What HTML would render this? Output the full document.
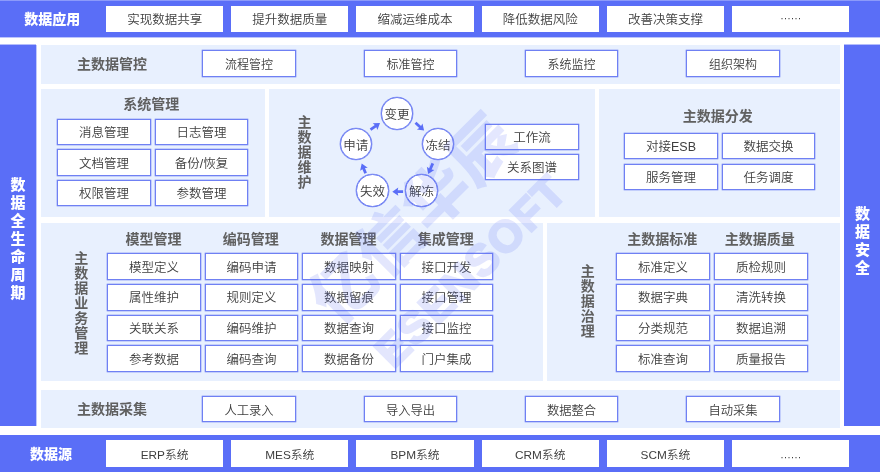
<!DOCTYPE html>
<html lang="zh-CN"><head><meta charset="utf-8"><title>主数据管理</title>
<style>
html,body{margin:0;padding:0;background:#fff;}
body{width:881px;height:473px;position:relative;overflow:hidden;font-family:"Liberation Sans","Noto Sans CJK SC",sans-serif;}
#root{will-change:transform;}
#root div{position:absolute;box-sizing:content-box;text-align:center;white-space:nowrap;}
#ar{position:absolute;left:0;top:0;}
#root #wm{left:0;top:0;width:881px;height:473px;color:#586cf6;opacity:.16;overflow:hidden;}
#root #wm div{overflow:visible;width:400px;height:80px;line-height:80px;transform:rotate(-45deg);transform-origin:200px 40px;}
#root #wm .w1{left:213.7px;top:178.9px;font-size:64px;letter-spacing:1px;font-weight:900;}
#root #wm .w2{left:271px;top:230.8px;font-size:44px;font-weight:700;letter-spacing:1.5px;-webkit-text-stroke:2.4px #586cf6;}
.blue{background:#5a6ef7;}
.pn{background:#e8f0fe;}
.wb{background:#fff;color:#3e3e3e;font-size:12.5px;font-weight:350;}
.bx{background:#fff;border:1px solid #6f80f3;box-shadow:0 0 0 .3px #6f80f3;color:#3e3e3e;font-size:12.5px;font-weight:350;}
.cc{background:#fff;border:1px solid #6f80f3;box-shadow:0 0 0 .35px #6f80f3;border-radius:50%;color:#3e3e3e;font-size:12.5px;font-weight:350;}
.tt{color:#606060;font-size:14px;font-weight:700;}
.vl{color:#606060;font-size:14px;font-weight:700;}
#root .vt{white-space:normal;word-break:break-all;overflow-wrap:anywhere;}
.wt{color:#fff;font-size:14px;font-weight:900;}
.wv{color:#fff;font-size:15px;font-weight:900;}
</style></head><body><div id="root">
<div class="blue" style="left:0px;top:0px;width:880px;height:37px;line-height:37px;"></div>
<div class="ln" style="left:0px;top:37px;width:880px;height:1px;line-height:1px;background:#bcc5fc;"></div>
<div class="blue" style="left:0px;top:435px;width:880px;height:36.8px;line-height:36.8px;"></div>
<div class="blue" style="left:0px;top:45px;width:36px;height:381px;line-height:381px;"></div>
<div class="ln" style="left:0px;top:44px;width:36px;height:1px;line-height:1px;background:#b4bdfb;"></div>
<div class="ln" style="left:844px;top:44px;width:36px;height:1px;line-height:1px;background:#b4bdfb;"></div>
<div class="ln" style="left:36px;top:45px;width:1px;height:381px;line-height:381px;background:#c0c8fc;"></div>
<div class="blue" style="left:844px;top:45px;width:36px;height:381px;line-height:381px;"></div>
<div class="wt" style="left:-7.8px;top:9.0px;width:120px;height:20px;line-height:20px;">数据应用</div>
<div class="ln" style="left:0px;top:0px;width:880px;height:1px;line-height:1px;background:#8c9afa;"></div>
<div class="wt" style="left:-9.0px;top:444.0px;width:120px;height:20px;line-height:20px;">数据源</div>
<div class="wb" style="left:106px;top:5.5px;width:117.3px;height:26.5px;line-height:28.9px;">实现数据共享</div>
<div class="wb" style="left:106px;top:440.3px;width:117.3px;height:26.5px;line-height:30.5px;font-size:11.8px;">ERP系统</div>
<div class="wb" style="left:231.2px;top:5.5px;width:117.3px;height:26.5px;line-height:28.9px;">提升数据质量</div>
<div class="wb" style="left:231.2px;top:440.3px;width:117.3px;height:26.5px;line-height:30.5px;font-size:11.8px;">MES系统</div>
<div class="wb" style="left:356.4px;top:5.5px;width:117.3px;height:26.5px;line-height:28.9px;">缩减运维成本</div>
<div class="wb" style="left:356.4px;top:440.3px;width:117.3px;height:26.5px;line-height:30.5px;font-size:11.8px;">BPM系统</div>
<div class="wb" style="left:481.6px;top:5.5px;width:117.3px;height:26.5px;line-height:28.9px;">降低数据风险</div>
<div class="wb" style="left:481.6px;top:440.3px;width:117.3px;height:26.5px;line-height:30.5px;font-size:11.8px;">CRM系统</div>
<div class="wb" style="left:606.8px;top:5.5px;width:117.3px;height:26.5px;line-height:28.9px;">改善决策支撑</div>
<div class="wb" style="left:606.8px;top:440.3px;width:117.3px;height:26.5px;line-height:30.5px;font-size:11.8px;">SCM系统</div>
<div class="wb" style="left:732px;top:5.5px;width:117.3px;height:26.5px;line-height:24.5px;font-size:10.5px;">······</div>
<div class="wb" style="left:732px;top:440.3px;width:117.3px;height:26.5px;line-height:34.5px;font-size:10.5px;">······</div>
<div class="wv vt" style="left:8.0px;top:176.0px;width:20px;height:126.0px;line-height:18px;">数据全生命周期</div>
<div class="wv vt" style="left:852.4px;top:205.0px;width:20px;height:72.0px;line-height:18px;">数据安全</div>
<div class="pn" style="left:41px;top:45px;width:799px;height:39px;line-height:39px;"></div>
<div class="pn" style="left:40.5px;top:89px;width:224.5px;height:127.5px;line-height:127.5px;"></div>
<div class="pn" style="left:268.5px;top:89px;width:326.5px;height:127.5px;line-height:127.5px;"></div>
<div class="pn" style="left:599px;top:89px;width:241px;height:127.5px;line-height:127.5px;"></div>
<div class="pn" style="left:40.5px;top:223px;width:502px;height:158px;line-height:158px;"></div>
<div class="pn" style="left:547px;top:223px;width:293px;height:158px;line-height:158px;"></div>
<div class="pn" style="left:40.5px;top:390px;width:799.5px;height:37.8px;line-height:37.8px;"></div>
<div class="tt" style="left:52.0px;top:54.0px;width:120px;height:20px;line-height:20px;">主数据管控</div>
<div class="tt" style="left:52.0px;top:399.0px;width:120px;height:20px;line-height:20px;">主数据采集</div>
<div class="bx" style="left:202px;top:50px;width:92px;height:25px;line-height:29.5px;font-size:12px;">流程管控</div>
<div class="bx" style="left:202px;top:396px;width:92px;height:24px;line-height:28.9px;font-size:12.3px;">人工录入</div>
<div class="bx" style="left:364px;top:50px;width:91px;height:25px;line-height:29.5px;font-size:12px;">标准管控</div>
<div class="bx" style="left:364px;top:396px;width:91px;height:24px;line-height:28.9px;font-size:12.3px;">导入导出</div>
<div class="bx" style="left:525px;top:50px;width:91px;height:25px;line-height:29.5px;font-size:12px;">系统监控</div>
<div class="bx" style="left:525px;top:396px;width:91px;height:24px;line-height:28.9px;font-size:12.3px;">数据整合</div>
<div class="bx" style="left:686px;top:50px;width:92px;height:25px;line-height:29.5px;font-size:12px;">组织架构</div>
<div class="bx" style="left:686px;top:396px;width:92px;height:24px;line-height:28.9px;font-size:12.3px;">自动采集</div>
<div class="tt" style="left:91.3px;top:94.0px;width:120px;height:20px;line-height:20px;">系统管理</div>
<div class="bx" style="left:57px;top:119px;width:92px;height:24px;line-height:27.4px;">消息管理</div>
<div class="bx" style="left:155px;top:119px;width:91px;height:24px;line-height:27.4px;">日志管理</div>
<div class="bx" style="left:57px;top:149px;width:92px;height:25px;line-height:28.3px;">文档管理</div>
<div class="bx" style="left:155px;top:149px;width:91px;height:25px;line-height:28.3px;">备份/恢复</div>
<div class="bx" style="left:57px;top:180px;width:92px;height:24px;line-height:27.2px;">权限管理</div>
<div class="bx" style="left:155px;top:180px;width:91px;height:24px;line-height:27.2px;">参数管理</div>
<div class="tt" style="left:657.7px;top:106.0px;width:120px;height:20px;line-height:20px;">主数据分发</div>
<div class="bx" style="left:624px;top:133px;width:92px;height:24px;line-height:27.4px;">对接ESB</div>
<div class="bx" style="left:722px;top:133px;width:91px;height:24px;line-height:27.4px;">数据交换</div>
<div class="bx" style="left:624px;top:164px;width:92px;height:24px;line-height:27.0px;">服务管理</div>
<div class="bx" style="left:722px;top:164px;width:91px;height:24px;line-height:27.0px;">任务调度</div>
<div class="vl vt" style="left:294.6px;top:114.5px;width:20px;height:76.0px;line-height:15.2px;">主数据维护</div>
<div class="bx" style="left:485px;top:124px;width:92px;height:24px;line-height:27.3px;">工作流</div>
<div class="bx" style="left:485px;top:154px;width:92px;height:24px;line-height:27.3px;">关系图谱</div>
<div class="cc" style="left:380.7px;top:97.1px;width:30.6px;height:30.6px;line-height:35.6px;">变更</div>
<div class="cc" style="left:421.8px;top:127.9px;width:30.6px;height:30.6px;line-height:35.6px;">冻结</div>
<div class="cc" style="left:405.1px;top:174.4px;width:30.6px;height:30.6px;line-height:35.6px;">解冻</div>
<div class="cc" style="left:356.3px;top:174.4px;width:30.6px;height:30.6px;line-height:35.6px;">失效</div>
<div class="cc" style="left:339.5px;top:127.9px;width:30.6px;height:30.6px;line-height:35.6px;">申请</div>
<svg id="ar" width="881" height="473" viewBox="0 0 881 473"><polygon transform="translate(370.5,129.7) rotate(-34.8)" points="0,-1.4 6.1676272415737845,-1.4 5.567627241573785,-4.1 11.567627241573785,0 5.567627241573785,4.1 6.1676272415737845,1.4 0,1.4" fill="#5a6ef7"/><polygon transform="translate(415.5,122.7) rotate(42.6)" points="0,-1.4 6.277756633874516,-1.4 5.677756633874516,-4.1 11.677756633874516,0 5.677756633874516,4.1 6.277756633874516,1.4 0,1.4" fill="#5a6ef7"/><polygon transform="translate(432.8,163.4) rotate(113.7)" points="0,-1.4 6.063420083029332,-1.4 5.463420083029332,-4.1 11.463420083029332,0 5.463420083029332,4.1 6.063420083029332,1.4 0,1.4" fill="#5a6ef7"/><polygon transform="translate(403.1,191.7) rotate(180.0)" points="0,-1.4 5.400000000000011,-1.4 4.800000000000011,-4.1 10.800000000000011,0 4.800000000000011,4.1 5.400000000000011,1.4 0,1.4" fill="#5a6ef7"/><polygon transform="translate(365.6,173.3) rotate(-111.9)" points="0,-1.4 5.05466403094813,-1.4 4.4546640309481305,-4.1 10.45466403094813,0 4.4546640309481305,4.1 5.05466403094813,1.4 0,1.4" fill="#5a6ef7"/></svg>
<div class="vl vt" style="left:71.3px;top:250.9px;width:20px;height:105.0px;line-height:15px;">主数据业务管理</div>
<div class="tt" style="left:93.5px;top:229.0px;width:120px;height:20px;line-height:20px;">模型管理</div>
<div class="bx" style="left:107px;top:253px;width:92px;height:25px;line-height:28.0px;">模型定义</div>
<div class="bx" style="left:107px;top:284px;width:92px;height:25px;line-height:27.5px;">属性维护</div>
<div class="bx" style="left:107px;top:315px;width:92px;height:24px;line-height:26.9px;">关联关系</div>
<div class="bx" style="left:107px;top:345px;width:92px;height:25px;line-height:28.4px;">参考数据</div>
<div class="tt" style="left:190.8px;top:229.0px;width:120px;height:20px;line-height:20px;">编码管理</div>
<div class="bx" style="left:205px;top:253px;width:91px;height:25px;line-height:28.0px;">编码申请</div>
<div class="bx" style="left:205px;top:284px;width:91px;height:25px;line-height:27.5px;">规则定义</div>
<div class="bx" style="left:205px;top:315px;width:91px;height:24px;line-height:26.9px;">编码维护</div>
<div class="bx" style="left:205px;top:345px;width:91px;height:25px;line-height:28.4px;">编码查询</div>
<div class="tt" style="left:288.4px;top:229.0px;width:120px;height:20px;line-height:20px;">数据管理</div>
<div class="bx" style="left:302px;top:253px;width:92px;height:25px;line-height:28.0px;">数据映射</div>
<div class="bx" style="left:302px;top:284px;width:92px;height:25px;line-height:27.5px;">数据留痕</div>
<div class="bx" style="left:302px;top:315px;width:92px;height:24px;line-height:26.9px;">数据查询</div>
<div class="bx" style="left:302px;top:345px;width:92px;height:25px;line-height:28.4px;">数据备份</div>
<div class="tt" style="left:385.7px;top:229.0px;width:120px;height:20px;line-height:20px;">集成管理</div>
<div class="bx" style="left:400px;top:253px;width:91px;height:25px;line-height:28.0px;">接口开发</div>
<div class="bx" style="left:400px;top:284px;width:91px;height:25px;line-height:27.5px;">接口管理</div>
<div class="bx" style="left:400px;top:315px;width:91px;height:24px;line-height:26.9px;">接口监控</div>
<div class="bx" style="left:400px;top:345px;width:91px;height:25px;line-height:28.4px;">门户集成</div>
<div class="vl vt" style="left:577.8px;top:264.2px;width:20px;height:75.0px;line-height:15px;">主数据治理</div>
<div class="tt" style="left:602.3px;top:229.0px;width:120px;height:20px;line-height:20px;">主数据标准</div>
<div class="bx" style="left:616px;top:253px;width:92px;height:25px;line-height:28.0px;">标准定义</div>
<div class="bx" style="left:616px;top:284px;width:92px;height:25px;line-height:27.5px;">数据字典</div>
<div class="bx" style="left:616px;top:315px;width:92px;height:24px;line-height:26.9px;">分类规范</div>
<div class="bx" style="left:616px;top:345px;width:92px;height:25px;line-height:28.4px;">标准查询</div>
<div class="tt" style="left:699.8px;top:229.0px;width:120px;height:20px;line-height:20px;">主数据质量</div>
<div class="bx" style="left:714px;top:253px;width:92px;height:25px;line-height:28.0px;">质检规则</div>
<div class="bx" style="left:714px;top:284px;width:92px;height:25px;line-height:27.5px;">清洗转换</div>
<div class="bx" style="left:714px;top:315px;width:92px;height:24px;line-height:26.9px;">数据追溯</div>
<div class="bx" style="left:714px;top:345px;width:92px;height:25px;line-height:28.4px;">质量报告</div>
<div id="wm"><div class="w1">亿信华辰</div><div class="w2">ESENSOFT</div></div>
</div></body></html>
